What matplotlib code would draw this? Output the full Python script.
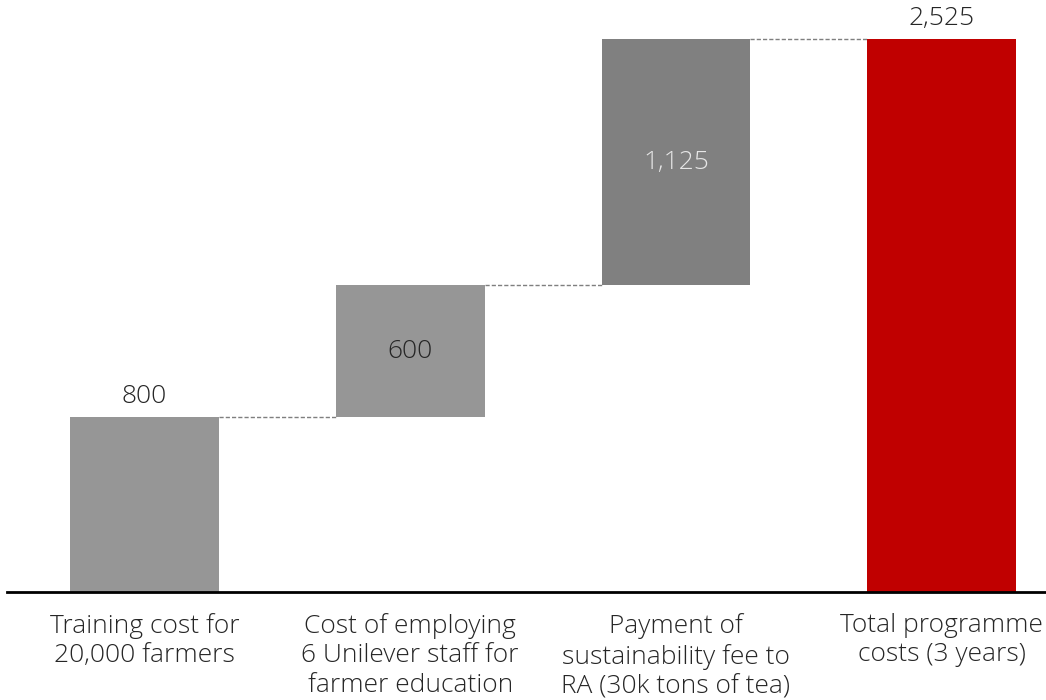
import matplotlib
matplotlib.use("Agg")
import matplotlib.pyplot as plt

categories = [
    "Training cost for\n20,000 farmers",
    "Cost of employing\n6 Unilever staff for\nfarmer education",
    "Payment of\nsustainability fee to\nRA (30k tons of tea)",
    "Total programme\ncosts (3 years)",
]
increments = [800, 600, 1125]
total = sum(increments)
value_labels = ["800", "600", "1,125", "2,525"]

bar_colors = ["#969696", "#969696", "#808080", "#c00000"]

plt.rcParams["font.family"] = ["Open Sans", "DejaVu Sans"]
plt.rcParams["font.weight"] = "light"

fig = plt.figure(figsize=(10.46, 7), dpi=100)
ax = fig.add_axes([7 / 1046, 108 / 700, 1 - 7 / 1046, 592 / 700])

x = list(range(len(categories)))
width = 0.56

bottoms = []
running = 0
for v in increments:
    bottoms.append(running)
    running += v
bottoms.append(0)
heights = increments + [total]

ax.bar(x, heights, bottom=bottoms, width=width, color=bar_colors, zorder=2)

# connectors between bar tops
tops = [b + h for b, h in zip(bottoms, heights)]
for i in range(len(x) - 1):
    ax.plot([x[i] + width / 2, x[i + 1] - width / 2], [tops[i], tops[i]],
            color="#7f7f7f", lw=1, ls=(0, (3, 1.5)), zorder=1)

fs = 19
txt = "#262626"
# value labels
ax.text(x[0], tops[0] + 35, value_labels[0], ha="center", va="bottom",
        fontsize=fs, color=txt)
ax.text(x[1], bottoms[1] + heights[1] / 2, value_labels[1], ha="center", va="center",
        fontsize=fs, color=txt)
ax.text(x[2], bottoms[2] + heights[2] / 2, value_labels[2], ha="center", va="center",
        fontsize=fs, color="#e6e6e6")
ax.text(x[3], tops[3] + 35, value_labels[3], ha="center", va="bottom",
        fontsize=fs, color=txt)

ax.set_xlim(-0.5176, 3.393)
ax.set_ylim(0, total * 592 / 553)

ax.set_xticks(x)
ax.set_xticklabels(categories, fontsize=fs, color=txt, linespacing=1.24, va="top")
ax.tick_params(axis="x", length=0, pad=15)
ax.set_yticks([])
for s in ["top", "right", "left"]:
    ax.spines[s].set_visible(False)
ax.spines["bottom"].set_linewidth(2)
ax.spines["bottom"].set_color("#000000")

fig.savefig("out.png", dpi=100)
